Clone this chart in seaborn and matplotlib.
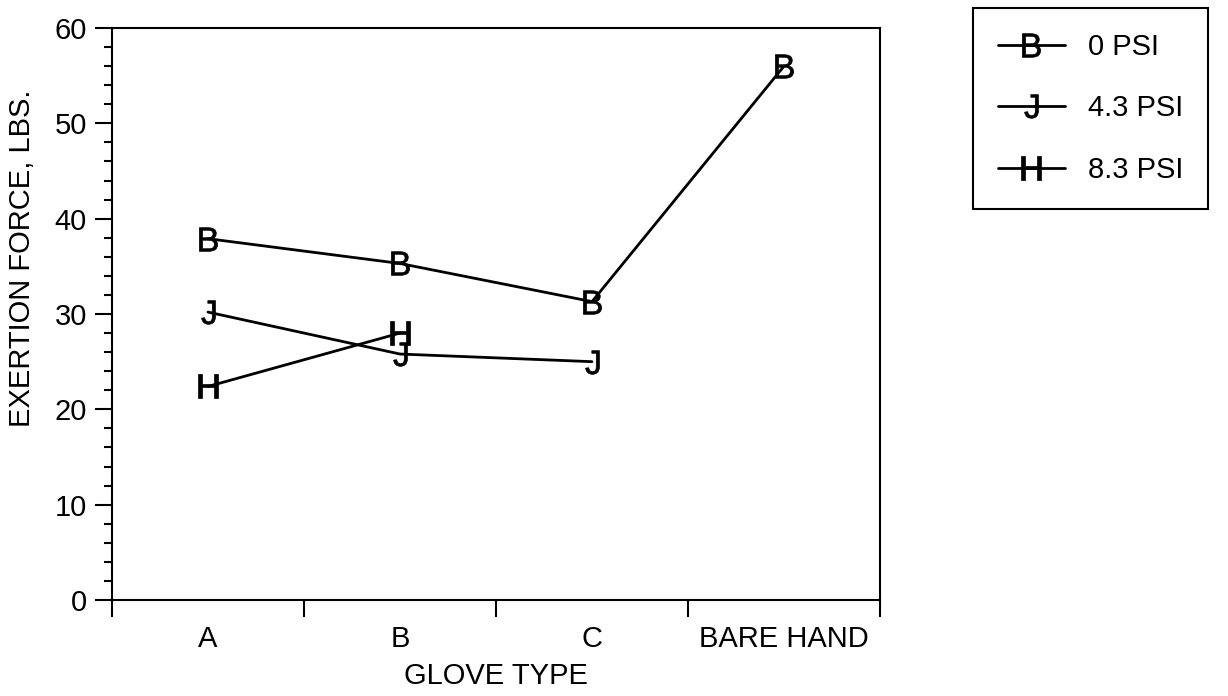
import numpy as np
import pandas as pd
import matplotlib
matplotlib.use("Agg")
import matplotlib.pyplot as plt
import seaborn as sns
from matplotlib.ticker import FixedLocator, MultipleLocator, NullFormatter

# data
gloves = ["A", "B", "C", "BARE HAND"]
psi_0 = [37.9, 35.3, 31.3, 56.0]
psi_43 = [30.2, 25.8, 25.0]
psi_83 = [22.4, 28.0]
series_names = ["0 PSI", "4.3 PSI", "8.3 PSI"]
series_markers = ["B", "J", "H"]

sns.set_theme(style="white")
plt.rcParams['font.family'] = ['Liberation Sans', 'DejaVu Sans']
plt.rcParams['mathtext.fontset'] = 'custom'
plt.rcParams['mathtext.rm'] = 'Liberation Sans'
for key in ['text.color', 'axes.labelcolor', 'xtick.color', 'ytick.color']:
    plt.rcParams[key] = 'black'

FS = 21


def build_frame():
    rows = []
    for name, vals in zip(series_names, [psi_0, psi_43, psi_83]):
        for g, v in zip(gloves, vals):
            rows.append({"glove": g, "force": v, "series": name})
    return pd.DataFrame(rows)


df = build_frame()

fig = plt.figure(figsize=(12.28, 6.96), dpi=100)
ax = fig.add_axes([112 / 1228, 1 - 600 / 696, (880 - 112) / 1228, (600 - 28) / 696])

markers = {n: r"$\mathrm{%s}$" % m for n, m in zip(series_names, series_markers)}
sns.lineplot(data=df, x="glove", y="force", hue="series", style="series",
             hue_order=series_names, style_order=series_names,
             palette=["black"] * 3, markers=markers, dashes=False,
             markersize=17, linewidth=2, markeredgewidth=0.5,
             markeredgecolor="black", markerfacecolor="black", ax=ax, sort=False)

ax.set_xlim(-0.5, 3.5)
ax.set_ylim(0, 60)

# category labels sit between the boundary ticks
ax.xaxis.set_major_locator(FixedLocator([-0.5, 0.5, 1.5, 2.5, 3.5]))
ax.xaxis.set_major_formatter(NullFormatter())
ax.set_xticks(range(len(gloves)), labels=gloves, minor=True)
ax.tick_params(axis="x", which="major", direction="out", length=12, width=1.5,
               bottom=True, color="black")
ax.tick_params(axis="x", which="minor", length=0, pad=18, labelsize=FS)

ax.yaxis.set_major_locator(MultipleLocator(10))
ax.yaxis.set_minor_locator(MultipleLocator(2))
ax.tick_params(axis="y", which="major", direction="out", length=12, width=1.5,
               left=True, labelsize=FS, pad=6, color="black")
ax.tick_params(axis="y", which="minor", direction="out", length=6, width=1.5,
               left=True, color="black")

for s in ax.spines.values():
    s.set_visible(True)
    s.set_color("black")
    s.set_linewidth(1.5)

ax.set_xlabel("GLOVE TYPE", fontsize=FS)
ax.xaxis.set_label_coords(0.5, (600 - 662) / 572)
ax.set_ylabel("EXERTION FORCE, LBS.", fontsize=FS)
ax.yaxis.set_label_coords((36 - 112) / 768, (600 - 258) / 572)

handles, labels = ax.get_legend_handles_labels()
for h in handles:
    h.set_markeredgecolor("black")
    h.set_markerfacecolor("black")
leg = ax.legend(handles, labels, loc="upper left",
                bbox_to_anchor=(973 / 1228, 1 - 8 / 696), bbox_transform=fig.transFigure,
                fontsize=FS, frameon=True, fancybox=False, framealpha=1,
                handlelength=2.3, handletextpad=0.8, labelspacing=1.15,
                borderpad=0.85, borderaxespad=0)
leg.get_frame().set_edgecolor("black")
leg.get_frame().set_linewidth(1.5)

plt.savefig("out.png", dpi=100)
